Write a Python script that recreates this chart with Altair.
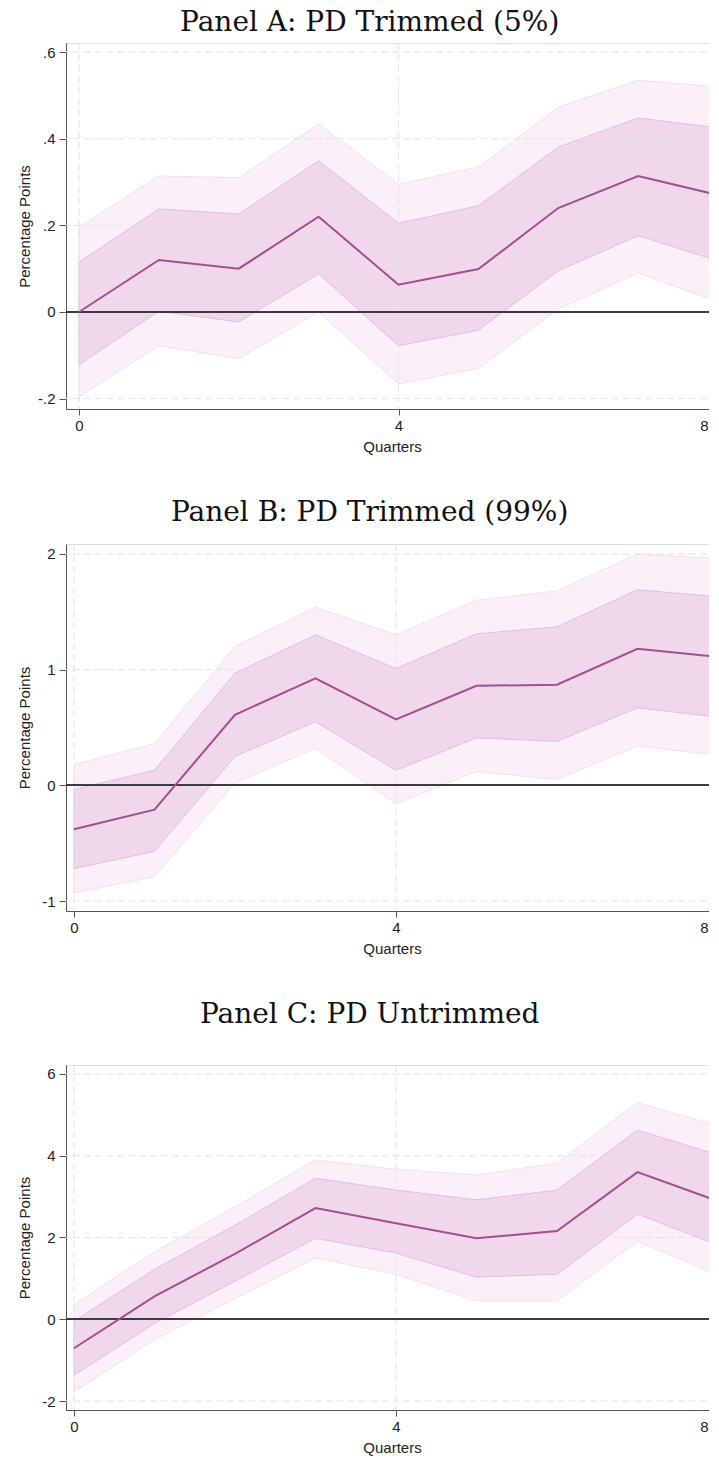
import altair as alt
import pandas as pd

quarters = [0, 1, 2, 3, 4, 5, 6, 7, 8]
x_ticks = [0, 4, 8]

# Panel A: PD Trimmed (5%)
a_est = [0.0, 0.12, 0.10, 0.22, 0.063, 0.099, 0.24, 0.314, 0.27]
a_in_hi = [0.115, 0.238, 0.226, 0.349, 0.205, 0.245, 0.381, 0.448, 0.425]
a_in_lo = [-0.122, 0.002, -0.023, 0.088, -0.078, -0.042, 0.095, 0.176, 0.118]
a_out_hi = [0.196, 0.314, 0.31, 0.434, 0.295, 0.335, 0.473, 0.535, 0.52]
a_out_lo = [-0.196, -0.078, -0.108, 0.0, -0.166, -0.13, 0.007, 0.09, 0.023]
a_yticks = [-0.2, 0.0, 0.2, 0.4, 0.6]
a_ylabels = ["-.2", "0", ".2", ".4", ".6"]

# Panel B: PD Trimmed (99%)
b_est = [-0.38, -0.21, 0.61, 0.925, 0.57, 0.86, 0.87, 1.18, 1.11]
b_in_hi = [-0.035, 0.13, 0.97, 1.30, 1.01, 1.31, 1.37, 1.69, 1.63]
b_in_lo = [-0.72, -0.57, 0.25, 0.55, 0.13, 0.41, 0.38, 0.67, 0.59]
b_out_hi = [0.18, 0.36, 1.2, 1.54, 1.30, 1.6, 1.68, 2.0, 1.96]
b_out_lo = [-0.93, -0.79, 0.02, 0.32, -0.16, 0.12, 0.05, 0.34, 0.26]
b_yticks = [-1, 0, 1, 2]
b_ylabels = ["-1", "0", "1", "2"]

# Panel C: PD Untrimmed
c_est = [-0.71, 0.56, 1.6, 2.72, 2.35, 1.98, 2.16, 3.6, 2.89]
c_in_hi = [-0.05, 1.22, 2.3, 3.45, 3.16, 2.92, 3.16, 4.63, 4.02]
c_in_lo = [-1.37, -0.1, 0.93, 1.98, 1.62, 1.03, 1.1, 2.57, 1.81]
c_out_hi = [0.36, 1.65, 2.75, 3.9, 3.67, 3.53, 3.82, 5.3, 4.73]
c_out_lo = [-1.78, -0.5, 0.5, 1.5, 1.1, 0.45, 0.45, 1.91, 1.08]
c_yticks = [-2, 0, 2, 4, 6]
c_ylabels = ["-2", "0", "2", "4", "6"]

OUTER = "#fbf0f9"
OUTER_EDGE = "#f4dff0"
INNER = "#f1d7ec"
INNER_EDGE = "#e6bddd"
LINE = "#a14f8e"
GRID = "#e3e3e3"
AXIS = "#555555"
SANS = "Liberation Sans"


def label_expr(vals, labs):
    expr = "''"
    for v, l in reversed(list(zip(vals, labs))):
        expr = f"abs(datum.value - ({v})) < 1e-6 ? '{l}' : " + expr
    return expr


def panel(title, est, in_lo, in_hi, out_lo, out_hi, xdom, ydom, yticks, ylabels,
          width, height, title_pad, ytick, ylabpad, toff):
    df = pd.DataFrame({"q": quarters, "est": est, "in_lo": in_lo, "in_hi": in_hi,
                       "out_lo": out_lo, "out_hi": out_hi})
    xs = alt.Scale(domain=xdom, nice=False, zero=False)
    ys = alt.Scale(domain=ydom, nice=False, zero=False)
    xax = alt.Axis(values=x_ticks, title="Quarters", grid=False, format="d",
                   tickSize=6, labelPadding=3, titlePadding=6, labelFlush=False,
                   labelAlign={"condition": {"test": "datum.value >= 8", "value": "right"},
                               "value": "center"},
                   labelOffset={"condition": {"test": "datum.value >= 8", "value": -10},
                                "value": 0},
                   domainColor=AXIS, tickColor=AXIS, labelColor="#222222",
                   titleColor="#222222", labelFont=SANS, titleFont=SANS,
                   labelFontSize=15, titleFontSize=15, titleFontWeight="normal")
    yax = alt.Axis(values=yticks, labelExpr=label_expr(yticks, ylabels),
                   title="Percentage Points", grid=False, tickSize=ytick,
                   labelPadding=ylabpad, titlePadding=title_pad, domainColor=AXIS,
                   tickColor=AXIS, labelColor="#222222", titleColor="#222222",
                   labelFont=SANS, titleFont=SANS, labelFontSize=15,
                   titleFontSize=15, titleFontWeight="normal")

    def X(f="q:Q"):
        return alt.X(f, scale=xs, axis=xax)

    def Y(f):
        return alt.Y(f, scale=ys, axis=yax)

    base = alt.Chart(df)
    outer = base.mark_area(color=OUTER, stroke=OUTER_EDGE, strokeWidth=1).encode(
        x=X(), y=Y("out_lo:Q"), y2="out_hi:Q")
    inner = base.mark_area(color=INNER, stroke=INNER_EDGE, strokeWidth=1).encode(
        x=X(), y=Y("in_lo:Q"), y2="in_hi:Q")
    ygrid = alt.Chart(pd.DataFrame({"v": yticks})).mark_rule(
        color=GRID, strokeWidth=1, strokeDash=[7, 4]).encode(y=Y("v:Q"))
    xgrid = alt.Chart(pd.DataFrame({"t": x_ticks})).mark_rule(
        color=GRID, strokeWidth=1, strokeDash=[7, 4]).encode(x=X("t:Q"))
    zero = base.mark_rule(color="#3c3c3c", strokeWidth=1.5).encode(y=alt.datum(0))
    line = base.mark_line(color=LINE, strokeWidth=2).encode(x=X(), y=Y("est:Q"))
    return alt.layer(outer, inner, ygrid, xgrid, zero, line).properties(
        width=width, height=height,
        title=alt.TitleParams(title, font="DejaVu Serif", fontSize=28,
                              fontWeight="normal", color="#111111",
                              anchor="middle", frame="bounds", offset=toff))


pa = panel("Panel A: PD Trimmed (5%)", a_est, a_in_lo, a_in_hi, a_out_lo, a_out_hi,
           [-0.163, 8], [-0.224, 0.621], a_yticks, a_ylabels, 652, 366, 5.1, 7, 4, 6)
pb = panel("Panel B: PD Trimmed (99%)", b_est, b_in_lo, b_in_hi, b_out_lo, b_out_hi,
           [-0.099, 8], [-1.086, 2.086], b_yticks, b_ylabels, 652, 367, 9.3, 7, 4, 17)
pc = panel("Panel C: PD Untrimmed", c_est, c_in_lo, c_in_hi, c_out_lo, c_out_hi,
           [-0.099, 8], [-2.22, 6.22], c_yticks, c_ylabels, 652, 345, 9.3, 7, 4, 35.5)

chart = alt.ConcatChart(concat=[pa, pb, pc], columns=1, align="none",
                        spacing=43).properties(
    padding={"left": 8, "top": 0, "right": -14, "bottom": 0}
).configure_view(stroke=None).configure(background="white")

chart.save("out.html", embed_options={"renderer": "svg", "actions": False})
